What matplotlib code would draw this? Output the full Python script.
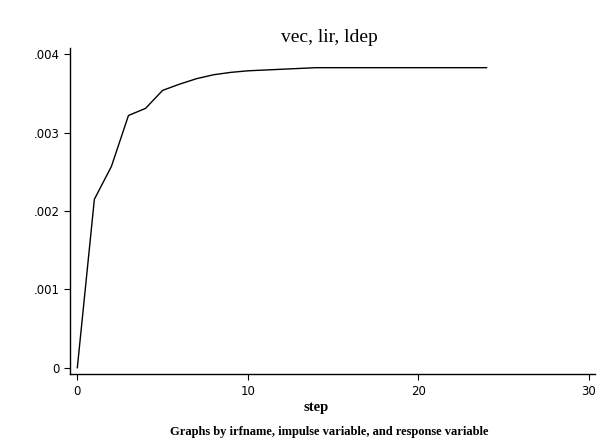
import matplotlib
matplotlib.use('Agg')
import matplotlib.pyplot as plt
from matplotlib.ticker import FuncFormatter

# irf values
step = list(range(0, 25))
irf = [0.0, 0.00215, 0.00257, 0.00322, 0.00331, 0.00354, 0.00362, 0.00369,
       0.00374, 0.00377, 0.00379, 0.00380, 0.00381, 0.00382, 0.00383, 0.00383,
       0.00383, 0.00383, 0.00383, 0.00383, 0.00383, 0.00383, 0.00383, 0.00383,
       0.00383]
xticks = [0, 10, 20, 30]
yticks = [0, 0.001, 0.002, 0.003, 0.004]

fig = plt.figure(figsize=(6.07, 4.42), dpi=100)
ax = fig.add_axes([0.1153, 0.1532, 0.865, 0.738])

ax.plot(step, irf, color='black', linewidth=1.0)

ax.set_xlim(-0.43, 30.36)
ax.set_ylim(-0.000084, 0.00408)
ax.set_xticks(xticks)
ax.set_yticks(yticks)

def fmt(v, pos):
    if v == 0:
        return '0'
    return ('%.3f' % v).lstrip('0')

ax.yaxis.set_major_formatter(FuncFormatter(fmt))
ax.tick_params(axis='both', direction='out', length=4, width=0.8, labelsize=8.5,
               colors='black')
for lab in ax.get_xticklabels() + ax.get_yticklabels():
    lab.set_family('DejaVu Sans')

ax.spines['top'].set_visible(False)
ax.spines['right'].set_visible(False)
ax.spines['left'].set_linewidth(1.0)
ax.spines['bottom'].set_linewidth(1.0)

fig.text(0.52, 0.077, 'step', family='Liberation Serif', fontsize=10.5,
         fontweight='bold', ha='center', va='center')
fig.text(0.543, 0.916, 'vec, lir, ldep', family='Liberation Serif', fontsize=14,
         ha='center', va='center')
fig.text(0.543, 0.022, 'Graphs by irfname, impulse variable, and response variable',
         family='Liberation Serif', fontsize=9, fontweight='bold', ha='center', va='center')

fig.savefig('out.png', dpi=100)
